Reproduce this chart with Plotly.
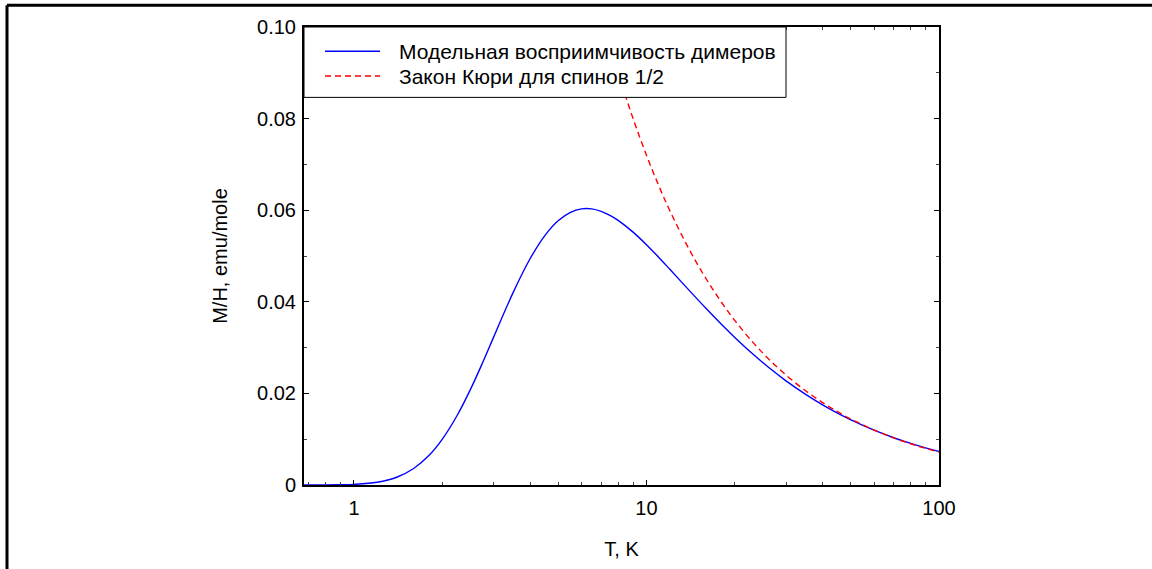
import plotly.graph_objects as go

# Temperature grid (K) and model susceptibility of spin dimers (emu/mole)
t_dimer = [0.675, 0.8, 0.9, 1.0, 1.2, 1.4, 1.6, 1.8, 2.0, 2.25, 2.5, 2.75, 3.0,
           3.5, 4.0, 4.5, 5.0, 5.5, 6.0, 6.5, 7.0, 7.5, 8.0, 9.0, 10.0, 11.0,
           12.0, 14.0, 16.0, 18.0, 20.0, 23.0, 26.0, 30.0, 35.0, 40.0, 45.0,
           50.0, 60.0, 70.0, 80.0, 90.0, 100.0]
chi_dimer = [0.0000016, 0.000014, 0.00005, 0.000136, 0.0006, 0.00169, 0.0036,
             0.00637, 0.00991, 0.01512, 0.02083, 0.02663, 0.03223, 0.042,
             0.0494, 0.05452, 0.05775, 0.05954, 0.06029, 0.06028, 0.05975,
             0.05888, 0.05778, 0.05521, 0.05246, 0.04975, 0.04716, 0.04249,
             0.03852, 0.03514, 0.03227, 0.0287, 0.02582, 0.02275, 0.01979,
             0.01751, 0.01569, 0.01421, 0.01196, 0.01032, 0.009073, 0.008095,
             0.007308]

# Curie law for free spins 1/2
t_curie = [7.2, 7.5, 8.0, 9.0, 10.0, 11.0, 12.0, 14.0, 16.0, 18.0, 20.0, 23.0,
           26.0, 30.0, 35.0, 40.0, 45.0, 50.0, 60.0, 70.0, 80.0, 90.0, 100.0]
chi_curie = [0.1, 0.096, 0.09, 0.08, 0.072, 0.06545, 0.06, 0.05143, 0.045,
             0.04, 0.036, 0.0313, 0.02769, 0.024, 0.02057, 0.018, 0.016,
             0.0144, 0.012, 0.01029, 0.009, 0.008, 0.0072]

series_names = ["Модельная восприимчивость димеров", "Закон Кюри для спинов 1/2"]
series_colors = ["#0000ff", "#ff0000"]
series_dash = ["solid", "6px,4px"]

x_ticks = [1, 10, 100]
x_minor = [0.7, 0.8, 0.9, 2, 3, 4, 5, 6, 7, 8, 9, 20, 30, 40, 50, 60, 70, 80, 90]
y_ticks = [0, 0.02, 0.04, 0.06, 0.08, 0.10]
y_tick_text = ["0", "0.02", "0.04", "0.06", "0.08", "0.10"]
y_minor = [0.01, 0.03, 0.05, 0.07, 0.09]

FONT = "Liberation Sans, Arial, sans-serif"

fig = go.Figure()
for xs, ys, name, color, dash in zip([t_dimer, t_curie], [chi_dimer, chi_curie],
                                     series_names, series_colors, series_dash):
    fig.add_trace(go.Scatter(
        x=xs, y=ys, mode="lines", line_shape="spline", name=name,
        line=dict(color=color, width=1.4, dash=dash), showlegend=False,
    ))

W, H = 1152, 569
L, R, T, B = 304, 213, 27, 80
pw, ph = W - L - R, H - T - B


def px(x):
    return (x - L) / pw


def py(y):
    return 1 - (y - T) / ph


# outer frame (left and top edges of the page box)
fig.add_shape(type="line", xref="paper", yref="paper", x0=px(7), x1=px(7),
              y0=-1, y1=py(5), line=dict(color="black", width=3))
fig.add_shape(type="line", xref="paper", yref="paper", x0=px(7), x1=2,
              y0=py(5), y1=py(5), line=dict(color="black", width=3))

# legend box in the upper-left corner of the plot
fig.add_shape(type="rect", xref="paper", yref="paper", layer="above",
              x0=0, x1=px(786), y0=py(98), y1=1,
              fillcolor="white", line=dict(color="black", width=1))
rows = [51.5, 76.5]
for row, name, color, dash in zip(rows, series_names, series_colors, series_dash):
    fig.add_shape(type="line", xref="paper", yref="paper", layer="above",
                  x0=px(325), x1=px(380), y0=py(row), y1=py(row),
                  line=dict(color=color, width=1.4, dash=dash))
    fig.add_annotation(xref="paper", yref="paper", x=px(397), y=py(row),
                       xanchor="left", yanchor="middle", showarrow=False,
                       text=name, font=dict(family=FONT, size=21, color="black"))

axis_common = dict(
    showgrid=False, zeroline=False, showline=True, linecolor="black",
    linewidth=2, mirror="ticks", ticks="inside", ticklen=5, tickwidth=1,
    tickcolor="black", tickfont=dict(family=FONT, size=20, color="black"),
)

fig.update_xaxes(
    type="log", range=[-0.1707, 2.0], tickmode="array", tickvals=x_ticks,
    ticktext=["1", "10", "100"], ticklabelstandoff=4,
    minor=dict(tickmode="array", tickvals=x_minor, ticks="inside",
               ticklen=3, tickcolor="#444"),
    title=dict(text="T, K", font=dict(family=FONT, size=20, color="black"),
               standoff=24),
    **axis_common,
)
fig.update_yaxes(
    range=[0, 0.1], tickmode="array", tickvals=y_ticks, ticktext=y_tick_text,
    ticklabelstandoff=2,
    minor=dict(tickmode="array", tickvals=y_minor, ticks="inside",
               ticklen=3, tickcolor="#444"),
    title=dict(text="M/H, emu/mole",
               font=dict(family=FONT, size=20, color="black"), standoff=24),
    **axis_common,
)

fig.update_layout(
    width=W, height=H,
    margin=dict(l=L, r=R, t=T, b=B),
    paper_bgcolor="white", plot_bgcolor="white",
    font=dict(family=FONT, size=20, color="black"),
    showlegend=False,
)

fig.write_html("out.html")
